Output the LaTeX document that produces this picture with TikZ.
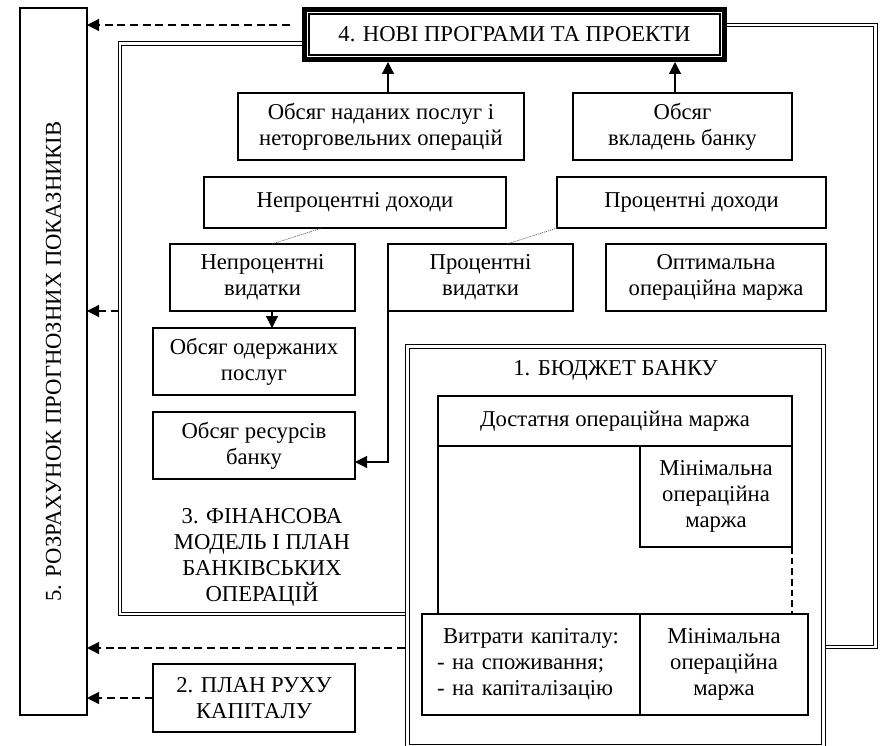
\documentclass[tikz,border=0pt]{standalone}
\usepackage{fontspec}
\setmainfont{Liberation Serif}
\usetikzlibrary{arrows.meta,calc}

% rectangular text box given by its corners: name, x1, y1, x2, y2, text
\newcommand\cornerbox[6]{%
  \node[box, minimum width={(#4-#2)*0.75pt}, minimum height={(#5-#3)*0.75pt}]
    (#1) at ({(#2+#4)/2},{(#3+#5)/2}) {#6};}

\begin{document}
\begin{tikzpicture}[x=0.75pt,y=-0.75pt,
  font=\fontsize{17}{19.5}\selectfont,
  line width=0.9pt,
  box/.style={draw, inner sep=0pt, outer sep=0pt, align=center},
  dbl/.style={draw, double, double distance=1.6pt, line width=0.85pt},
  tip/.style={-{Triangle[length=9pt,width=9pt]}},
  dash arrow/.style={tip, dash pattern=on 6pt off 3.5pt},
  fine dots/.style={line width=0.5pt, dash pattern=on 0.8pt off 0.8pt, black!70}]
\useasboundingbox (0,0) rectangle (880,745);

% frame of block 3 (double line, wraps around blocks 4 and 1)
\draw[dbl] (310,43.5) -- (120,43.5) -- (120,614) -- (407.5,614);
\draw[dbl] (722,25) -- (875.5,25) -- (875.5,647) -- (823.5,647);

% block 4
\node[draw, line width=3.75pt, fill=white, inner sep=0pt,
      minimum width=315pt, minimum height=37.5pt] (new) at (514.5,34.5)
      {4. НОВІ ПРОГРАМИ ТА ПРОЕКТИ};
\draw ([shift={(5.25pt,-5.25pt)}]new.north west) rectangle ([shift={(-5.25pt,5.25pt)}]new.south east);

% block 1
\draw[dbl] (407.5,346.5) rectangle (823.5,746.5);
\node (budt) at (615.5,370) {1. БЮДЖЕТ БАНКУ};
\cornerbox{dost}{438}{396}{792}{446}{Достатня операційна маржа}
\cornerbox{min1}{640}{446}{792}{547}{Мінімальна\\операційна\\маржа}
\node[box, minimum width=163.5pt, minimum height=75.75pt, text width=141pt, align=left]
  (vytr) at (531,664.5)
  {{\centering Витрати капіталу:\par}- на споживання;\\- на капіталізацію};
\cornerbox{min2}{640}{614}{808}{715}{Мінімальна\\операційна\\маржа}
\draw (dost.south west) -- (dost.south west |- vytr.north);
\draw[dash pattern=on 5pt off 3pt] (min1.south east) -- (min1.south east |- vytr.north);

% block 3 contents
\cornerbox{nad}{238}{93}{524}{160}{Обсяг наданих послуг і\\неторговельних операцій}
\cornerbox{vkl}{573}{93}{792}{160}{Обсяг\\вкладень банку}
\cornerbox{npd}{204}{177}{506}{228}{Непроцентні доходи}
\cornerbox{pd}{557}{177}{826}{228}{Процентні доходи}
\cornerbox{npv}{170}{244}{355}{311}{Непроцентні\\видатки}
\cornerbox{pv}{388}{244}{573}{311}{Процентні\\видатки}
\cornerbox{opt}{606}{244}{826}{311}{Оптимальна\\операційна маржа}
\cornerbox{odz}{153}{328}{355}{395}{Обсяг одержаних\\послуг}
\cornerbox{res}{153}{412}{355}{479}{Обсяг ресурсів\\банку}
\node[align=center] (fin) at (262,557) {3. ФІНАНСОВА\\МОДЕЛЬ І ПЛАН\\БАНКІВСЬКИХ\\ОПЕРАЦІЙ};

% block 2 and block 5
\cornerbox{plan}{153}{664}{355}{732}{2. ПЛАН РУХУ\\КАПІТАЛУ}
\cornerbox{rozr}{20}{8}{87}{715}{}
\node[rotate=90] (rozrt) at (rozr.center) {5. РОЗРАХУНОК ПРОГНОЗНИХ ПОКАЗНИКІВ};

% solid arrows
\coordinate (a1) at (388,93);
\draw[tip] (a1) -- (a1 |- new.south);
\coordinate (a2) at (675,93);
\draw[tip] (a2) -- (a2 |- new.south);
\coordinate (a3) at (272,311);
\draw[tip] (a3) -- (a3 |- odz.north);
\coordinate (a4) at (355,462);
\draw[tip] (pv.south west) |- (a4);

% dotted links
\coordinate (d1) at (322,228);
\coordinate (d2) at (272,244);
\draw[fine dots] (d1) -- (d2);
\coordinate (d3) at (507,244);
\draw[fine dots] (pd.south west) -- (d3);

% dashed arrows into block 5
\coordinate (e1) at (290,25);
\draw[dash arrow] (e1) -- (e1 -| rozr.east);
\coordinate (e2) at (119,311);
\draw[dash arrow] (e2) -- (e2 -| rozr.east);
\coordinate (e3) at (405,648);
\draw[dash arrow] (e3) -- (e3 -| rozr.east);
\draw[dash arrow] (plan.west) -- (plan.west -| rozr.east);
\end{tikzpicture}
\end{document}
